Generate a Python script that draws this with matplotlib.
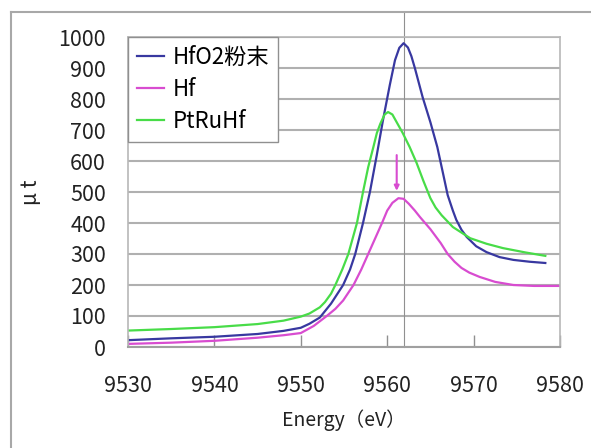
import matplotlib
matplotlib.use("Agg")
import matplotlib.pyplot as plt
from matplotlib.lines import Line2D

plt.rcParams['font.family'] = ['Noto Sans CJK JP', 'DejaVu Sans']

# HfO2 powder reference
energy_hfo2 = [9530, 9535, 9540, 9545, 9548, 9550, 9551, 9552.2, 9553.5, 9554.9, 9555.7,
               9556.3, 9557.2, 9558.0, 9558.8, 9559.5, 9560.3, 9560.9, 9561.4, 9561.9,
               9562.4, 9562.8, 9563.2, 9564.1, 9565.0, 9565.8, 9566.5, 9567.0, 9567.6,
               9568.0, 9568.6, 9569.2, 9570.3, 9571.5, 9573.0, 9574.6, 9576.5, 9578.3]
mu_hfo2 = [22, 28, 33, 42, 52, 62, 75, 95, 140, 200, 250,
           300, 400, 500, 620, 730, 845, 925, 965, 980,
           966, 938, 900, 806, 725, 645, 555, 490, 440,
           410, 378, 355, 325, 306, 290, 281, 275, 271]

# Hf metal
energy_hf = [9530, 9535, 9540, 9545, 9548, 9550, 9551.5, 9553.0, 9554.0, 9554.9, 9556.1,
             9557.0, 9557.8, 9558.6, 9559.4, 9560.0, 9560.6, 9561.3, 9561.9, 9562.5,
             9563.2, 9563.8, 9565.0, 9566.2, 9567.0, 9567.8, 9568.6, 9569.5, 9570.7,
             9572.5, 9574.6, 9577.0, 9580.0]
mu_hf = [10, 14, 20, 30, 38, 45, 68, 100, 123, 150, 200,
         250, 300, 350, 400, 440, 465, 480, 478, 462,
         440, 419, 380, 335, 300, 275, 255, 240, 226,
         210, 200, 197, 197]

# PtRuHf sample
energy_ptruhf = [9530, 9535, 9540, 9545, 9548, 9550, 9551, 9552.2, 9552.8, 9553.5, 9554.0,
                 9554.8, 9555.5, 9556.5, 9557.2, 9557.8, 9558.4, 9558.8, 9559.2, 9559.7,
                 9560.1, 9560.6, 9561.0, 9561.8, 9562.6, 9563.4, 9564.2, 9565.0, 9565.6,
                 9566.3, 9567.6, 9569.6, 9571.5, 9573.4, 9576.0, 9578.3]
mu_ptruhf = [53, 58, 64, 74, 85, 98, 108, 128, 145, 172, 200,
             250, 300, 400, 500, 580, 645, 690, 720, 750,
             758, 750, 730, 690, 645, 594, 535, 480, 450,
             425, 387, 351, 333, 319, 305, 294]

labels = ['HfO2粉末', 'Hf', 'PtRuHf']
edge_energy = 9561.9
arrow_energy = 9561.1
arrow_from = 628
arrow_to = 495

fig = plt.figure(figsize=(5.91, 4.48), dpi=100)
fig.patch.set_facecolor('white')

# outer chart frame (top and left edges)
frame_top = 1 - 12 / 448
frame_left = 11 / 591
fig.add_artist(Line2D([frame_left, 1.0], [frame_top, frame_top], transform=fig.transFigure,
                      color='#a8a8a8', lw=1.5))
fig.add_artist(Line2D([frame_left, frame_left], [0.0, frame_top], transform=fig.transFigure,
                      color='#a8a8a8', lw=1.5))

ax = fig.add_axes([128 / 591, 1 - 347 / 448, 432 / 591, 310 / 448])

ax.plot(energy_hfo2, mu_hfo2, color='#3838a0', lw=1.6, label=labels[0])
ax.plot(energy_hf, mu_hf, color='#d84cd0', lw=1.6, label=labels[1])
ax.plot(energy_ptruhf, mu_ptruhf, color='#48dc48', lw=1.6, label=labels[2])

# edge marker line, runs up to the chart frame
ax.axvline(edge_energy, ymin=0, ymax=1.08, color='#909090', lw=0.8, clip_on=False, zorder=1)

ax.annotate('', xy=(arrow_energy, arrow_to), xytext=(arrow_energy, arrow_from),
            arrowprops=dict(arrowstyle='-|>', color='#d84cd0', lw=1.5, mutation_scale=7))

ax.set_xlim(9530, 9580)
ax.set_ylim(0, 1000)
ax.set_xticks(range(9530, 9581, 10))
ax.set_yticks(range(0, 1001, 100))
ax.yaxis.grid(True, color='#b0b0b0', lw=1.5)
ax.set_axisbelow(True)

for s in ax.spines.values():
    s.set_color('#b8b8b8')
    s.set_linewidth(1.2)
ax.spines['bottom'].set_color('#a0a0a0')
ax.spines['bottom'].set_linewidth(1.5)

ax.tick_params(axis='x', direction='in', length=9, width=1, color='#909090',
               labelsize=15.5, labelcolor='#222222', pad=20)
ax.tick_params(axis='y', length=0, labelsize=15.5, labelcolor='#222222', pad=16)

ax.set_xlabel('Energy（eV）', fontsize=14, color='#222222', labelpad=9)
ax.set_ylabel('μ t', fontsize=15, color='#222222', labelpad=12)

leg = ax.legend(loc='upper left', bbox_to_anchor=(0.0, 1.0), fontsize=16,
                frameon=True, fancybox=False, borderaxespad=0.0,
                handlelength=1.2, handletextpad=0.4, labelspacing=0.4,
                borderpad=0.4)
leg.get_frame().set_edgecolor('#909090')
leg.get_frame().set_linewidth(1.0)
leg.get_frame().set_alpha(1)

fig.savefig('out.png', dpi=100, facecolor='white')
